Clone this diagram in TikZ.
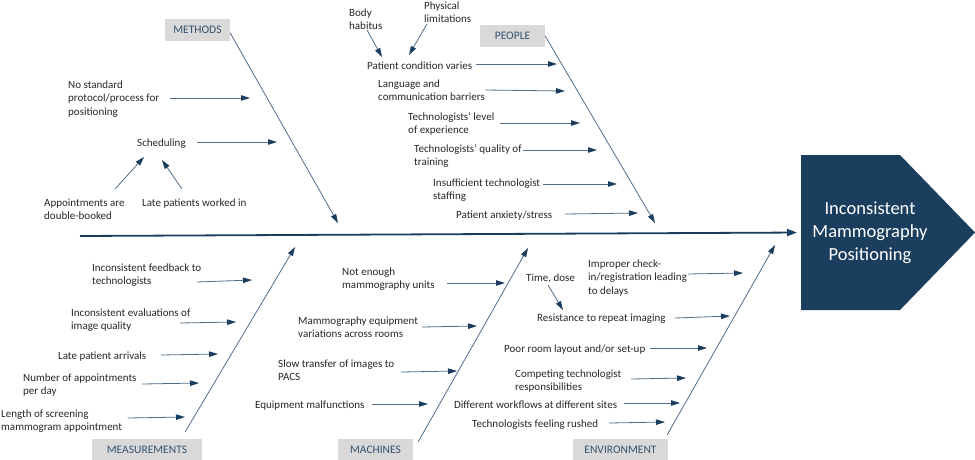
\documentclass[tikz,border=0pt]{standalone}
\usepackage{fontspec}
\setmainfont{Carlito}
\usetikzlibrary{arrows.meta}
\definecolor{navy}{RGB}{27,62,94}
\definecolor{bonec}{RGB}{80,108,138}
\definecolor{catc}{RGB}{52,82,112}
\definecolor{catfill}{RGB}{217,217,217}
\newcommand{\ml}[1]{\begin{tabular}[t]{@{}l@{}}#1\end{tabular}}
\newcommand{\carrow}[3]{\coordinate (#1-s) at (#2); \coordinate (#1-e) at (#3); \draw[sub] (#1-s) -- (#1-e);}
\begin{document}
\begin{tikzpicture}[x=1pt,y=-1pt,
 txt/.style={anchor=base west, inner sep=0pt, font=\fontsize{11}{13.5}\selectfont, text=black!85},
 cat/.style={fill=catfill, text=catc, font=\fontsize{11.5}{14}\selectfont, inner sep=0pt, minimum height=22pt},
 sub/.style={draw=bonec, line width=0.8pt, -{Triangle[length=9pt,width=5.5pt,color=navy]}},
 bone/.style={draw=bonec, line width=0.8pt, -{Triangle[length=9pt,width=5.5pt,color=navy]}},
 spine/.style={draw=navy, line width=1.8pt, -{Triangle[length=10pt,width=7pt]}},
]
\useasboundingbox (0,0) rectangle (975,459);

% effect
\fill[navy] (801,155) -- (900,155) -- (975,232.5) -- (900,310) -- (801,310) -- cycle;
\node[text=white, align=center, font=\fontsize{18.5}{23}\selectfont, inner sep=0pt] (effect) at (870,233) {Inconsistent\\Mammography\\Positioning};
\coordinate (effw) at (801,232.5);
\coordinate (spst) at (80,236);
\draw[spine, shorten >=4pt] (spst) -- (effw);

% categories
\node[cat, minimum width=65pt] (methods) at (197.5,30) {METHODS};
\node[cat, minimum width=65pt] (people) at (512.5,36) {PEOPLE};
\node[cat, minimum width=110pt] (meas) at (147,450) {MEASUREMENTS};
\node[cat, minimum width=75pt] (mach) at (375.5,450) {MACHINES};
\node[cat, minimum width=95pt] (env) at (620.5,450) {ENVIRONMENT};

% bones
\coordinate (mb-e) at (338,223);
\coordinate (pb-e) at (655,223);
\coordinate (msb-e) at (295,247);
\coordinate (mcb-e) at (528,248);
\coordinate (eb-e) at (775,245);
\draw[bone] ([yshift=-3pt]methods.east) -- (mb-e);
\draw[bone] (people.east) -- (pb-e);
\draw[bone] ([xshift=-17pt,yshift=7pt]meas.north east) -- (msb-e);
\draw[bone] ([xshift=5pt,yshift=-3pt]mach.north east) -- (mcb-e);
\draw[bone] ([xshift=-1pt,yshift=4pt]env.north east) -- (eb-e);

% METHODS causes
\node[txt] (nostd) at (68,88) {\ml{No standard\\protocol/process for\\positioning}};
\node[txt] (sched) at (137,146) {Scheduling};
\node[txt] (dbl) at (44,206) {\ml{Appointments are\\double-booked}};
\node[txt] (latew) at (142,206) {Late patients worked in};
\carrow{nostd}{170,98}{250,98}
\carrow{sched}{197,142}{277,142}
\carrow{dbl}{115,189}{144,157}
\carrow{latew}{182,189}{162,160}

% PEOPLE causes
\node[txt] (body) at (349,16) {\ml{Body\\habitus}};
\node[txt] (phys) at (424,9) {\ml{Physical\\limitations}};
\node[txt] (pcv) at (367,69) {Patient condition varies};
\node[txt] (lang) at (378,87) {\ml{Language and\\communication barriers}};
\node[txt] (tlev) at (408,120) {\ml{Technologists’ level\\of experience}};
\node[txt] (tqual) at (414,152) {\ml{Technologists’ quality of\\training}};
\node[txt] (insuf) at (433,186) {\ml{Insufficient technologist\\staffing}};
\node[txt] (anx) at (456,218) {Patient anxiety/stress};
\carrow{body}{367,30}{382,57}
\carrow{phys}{427,24}{409,55}
\carrow{pcv}{476,64}{557,64}
\carrow{lang}{485,90}{565,91}
\carrow{tlev}{500,123}{580,123}
\carrow{tqual}{523,150}{597,150}
\carrow{insuf}{543,184}{617,184}
\carrow{anx}{565,214}{638,213}

% MEASUREMENTS causes
\node[txt] (feed) at (92,271) {\ml{Inconsistent feedback to\\technologists}};
\node[txt] (evalq) at (71,316) {\ml{Inconsistent evaluations of\\image quality}};
\node[txt] (arrv) at (58,359) {Late patient arrivals};
\node[txt] (numb) at (23,381) {\ml{Number of appointments\\per day}};
\node[txt] (lenx) at (1,417) {\ml{Length of screening\\mammogram appointment}};
\carrow{feed}{197,282}{252,280}
\carrow{evalq}{180,323}{236,322}
\carrow{arrv}{161,355}{218,354}
\carrow{numb}{142,384}{199,383}
\carrow{lenx}{128,418}{185,417}

% MACHINES causes
\node[txt] (noten) at (342,275) {\ml{Not enough\\mammography units}};
\node[txt] (eqvar) at (298,324) {\ml{Mammography equipment\\variations across rooms}};
\node[txt] (slow) at (278,367) {\ml{Slow transfer of images to\\PACS}};
\node[txt] (malf) at (255,408) {Equipment malfunctions};
\carrow{noten}{447,283}{505,283}
\carrow{eqvar}{422,327}{477,326}
\carrow{slow}{401,372}{457,371}
\carrow{malf}{372,404}{428,404}

% ENVIRONMENT causes
\node[txt] (tdose) at (526,281) {Time, dose};
\node[txt] (impr) at (588,267) {\ml{Improper check-\\in/registration leading\\to delays}};
\node[txt] (resist) at (537,321) {Resistance to repeat imaging};
\node[txt] (poor) at (504,352) {Poor room layout and/or set-up};
\node[txt] (compet) at (515,377) {\ml{Competing technologist\\responsibilities}};
\node[txt] (diffw) at (454,408) {Different workflows at different sites};
\node[txt] (rush) at (472,427) {Technologists feeling rushed};
\carrow{tdose}{548,285}{563,310}
\carrow{impr}{688,274}{743,273}
\carrow{resist}{675,318}{730,316}
\carrow{poor}{650,348}{707,348}
\carrow{compet}{631,379}{686,378}
\carrow{diffw}{624,403}{680,403}
\carrow{rush}{609,423}{665,422}
\end{tikzpicture}
\end{document}
